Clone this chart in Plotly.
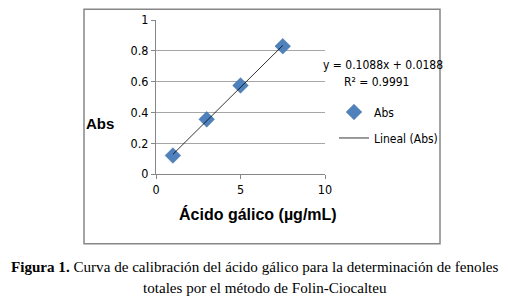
import plotly.graph_objects as go

# Data
conc = [1, 3, 5, 7.5]               # Ácido gálico (µg/mL)
abs_vals = [0.12, 0.355, 0.575, 0.83]  # Abs
slope = 0.1088
intercept = 0.0188
r2 = 0.9991
x_ticks = [0, 5, 10]
y_ticks = [0, 0.2, 0.4, 0.6, 0.8, 1]

narrow = "DejaVu Sans Condensed, Liberation Sans, Arial, sans-serif"
serif = "Liberation Serif, Times New Roman, serif"
bold_sans = "Liberation Sans, Arial, sans-serif"

fit_x = [min(conc), max(conc)]
fit_y = [slope * v + intercept for v in fit_x]

fig = go.Figure()
fig.add_trace(go.Scatter(
    x=conc, y=abs_vals, mode="markers", name="Abs", legendgroup="a",
    marker=dict(symbol="diamond", size=12, color="#4F81BD",
                line=dict(color="#3B6A9E", width=0.5)),
))
fig.add_trace(go.Scatter(
    x=fit_x, y=fit_y, mode="lines", name="Lineal (Abs)", legendgroup="b",
    line=dict(color="black", width=0.8),
))

W, H = 530, 305
L, R, T, B = 156, 325, 15, 174
pw, ph = R - L, B - T


def px(x):
    return (x - L) / pw


def py(y):
    return (B - y) / ph


fig.update_layout(
    width=W, height=H,
    margin=dict(l=L, r=W - R, t=T, b=H - B),
    paper_bgcolor="white", plot_bgcolor="white",
    showlegend=True,
    legend=dict(x=px(334), y=py(95), xanchor="left", yanchor="top",
                font=dict(family=narrow, size=12, color="black"),
                bgcolor="rgba(0,0,0,0)", tracegroupgap=7, itemwidth=30),
    xaxis=dict(range=[0, 10], tickvals=x_ticks, ticktext=[str(v) for v in x_ticks],
               showgrid=False, zeroline=False, showline=True, linecolor="#868686",
               linewidth=1, ticks="outside", ticklen=4, tickcolor="#868686",
               tickfont=dict(family=narrow, size=12.5, color="black")),
    yaxis=dict(range=[0, 1], tickvals=y_ticks,
               ticktext=["0", "0.2", "0.4", "0.6", "0.8", "1"],
               showgrid=True, gridcolor="#A6A6A6", gridwidth=1,
               zeroline=False, showline=True, linecolor="#868686", linewidth=1,
               ticks="outside", ticklen=4, tickcolor="#868686",
               tickfont=dict(family=narrow, size=12.5, color="black")),
)

# Chart border
fig.add_shape(type="rect", xref="paper", yref="paper",
              x0=px(84), x1=px(440), y0=py(246), y1=py(4),
              line=dict(color="#868686", width=1.5), layer="below")

annotations = [
    dict(text="<b>Abs</b>", x=px(100), y=py(122), font=dict(family=bold_sans, size=15, color="black")),
    dict(text="<b>Ácido gálico (µg/mL)</b>", x=px(258), y=py(215),
         font=dict(family=bold_sans, size=16, color="black")),
    dict(text=f"y = {slope}x + {intercept}", x=px(383), y=py(61),
         font=dict(family=narrow, size=12, color="black")),
    dict(text=f"R² = {r2}", x=px(377), y=py(79),
         font=dict(family=narrow, size=12, color="black")),
    dict(text="<b>Figura 1.</b> Curva de calibración del ácido gálico para la determinación de fenoles",
         x=px(255), y=py(270), font=dict(family=serif, size=15.1, color="black")),
    dict(text="totales por el método de Folin-Ciocalteu",
         x=px(265), y=py(292), font=dict(family=serif, size=15.1, color="black")),
]
for a in annotations:
    fig.add_annotation(xref="paper", yref="paper", showarrow=False,
                       xanchor="center", yanchor="middle", **a)

fig.write_html("out.html", config={"displayModeBar": False},
               post_script="document.body.style.margin='0';document.body.style.padding='0';")
